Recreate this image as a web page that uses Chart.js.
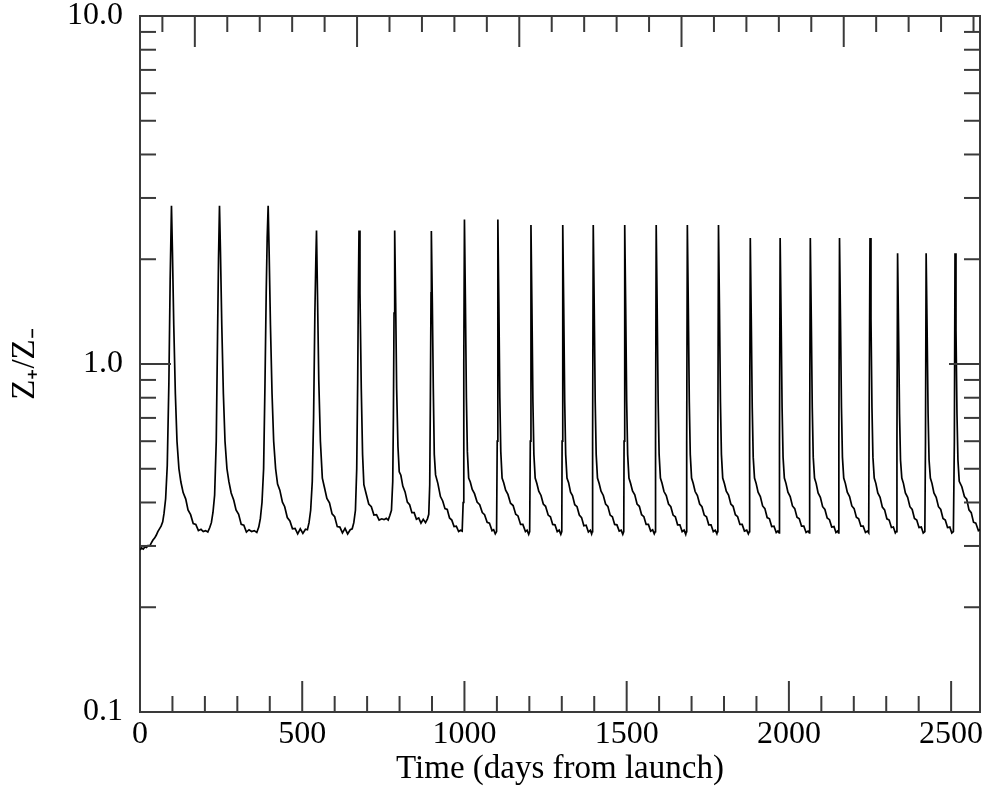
<!DOCTYPE html>
<html><head><meta charset="utf-8">
<script src="https://cdn.jsdelivr.net/npm/chart.js@4"></script>
<style>html,body{margin:0;padding:0;background:#fff}#wrap{width:1000px;height:800px}</style>
</head><body><div id="wrap"><canvas id="c" width="1000" height="800"></canvas></div>
<script>
// Series: time (days from launch) and Z+/Z- ratio
const days = [
0,5,10,15,20,25,30,35,40,45,50,55,60,65,70,74,79,84,89,93,97,
100,104,109,114,120,126,133,141,148,156,164,172,180,188,195,202,209,215,220,225,230,235,239,242,245,
248,252,257,262,268,274,281,289,296,304,312,320,328,336,344,352,360,366,371,376,381,385,389,392,395,
398,402,407,412,418,424,431,439,446,454,462,470,478,486,494,502,510,516,521,526,531,535,539,542,544,
547,551,556,562,568,576,584,592,600,608,616,624,632,640,648,654,659,664,668,671,673,675,
678,682,686,690,697,705,713,721,729,737,745,752,759,765,770,775,779,781,783,785,
788,791,795,799,804,810,817,824,831,838,845,852,859,866,873,880,886,890,893,895,897,898,
901,904,907,911,918,926,933,940,947,954,961,968,975,982,988,993,996,998,1000,
1003,1006,1009,1013,1018,1024,1031,1039,1047,1055,1062,1070,1077,1085,1090,1095,1099,1101,1103,
1106,1109,1112,1116,1121,1127,1134,1142,1150,1158,1165,1173,1180,1188,1193,1198,1201,1203,1205,
1208,1211,1214,1218,1223,1229,1236,1243,1250,1258,1265,1272,1279,1286,1292,1297,1300,1301,1303,
1306,1309,1312,1316,1321,1327,1333,1340,1347,1354,1361,1368,1375,1382,1388,1392,1394,1395,1397,
1400,1403,1406,1410,1415,1421,1428,1435,1442,1449,1456,1463,1470,1477,1483,1488,1491,1492,1494,
1497,1500,1503,1507,1512,1518,1525,1532,1539,1546,1553,1560,1567,1574,1580,1585,1588,1589,1591,
1594,1597,1600,1604,1609,1615,1622,1629,1636,1643,1650,1657,1664,1671,1677,1682,1684,1685,1687,
1690,1693,1696,1700,1705,1711,1718,1725,1732,1739,1746,1753,1760,1767,1773,1778,1780,1781,1783,
1786,1789,1792,1796,1801,1807,1814,1821,1828,1835,1842,1849,1856,1863,1870,1875,1878,1879,1881,
1884,1887,1890,1894,1899,1905,1912,1919,1926,1933,1940,1947,1954,1961,1966,1970,1971,1973,
1976,1979,1982,1986,1991,1997,2004,2011,2018,2025,2032,2039,2046,2053,2059,2063,2064,2066,
2069,2072,2075,2079,2084,2090,2097,2104,2111,2118,2125,2132,2139,2145,2150,2153,2154,2156,
2159,2162,2165,2169,2174,2180,2187,2194,2201,2208,2215,2222,2229,2236,2242,2246,2247,2250,
2253,2256,2259,2263,2268,2274,2281,2288,2295,2302,2309,2316,2322,2328,2331,2333,2335,
2338,2341,2344,2348,2353,2359,2366,2373,2380,2387,2394,2401,2408,2414,2419,2421,2423,
2426,2429,2432,2436,2441,2447,2454,2461,2468,2475,2482,2489,2496,2502,2507,2510,2512,
2515,2518,2521,2525,2533,2541,2548,2555,2562,2569,2576,2584,2589
];
const ratio = [
0.292,0.296,0.294,0.298,0.297,0.301,0.300,0.306,0.312,0.316,0.322,0.330,0.336,0.342,0.352,0.372,0.41,0.51,0.88,1.75,2.85,
2.1,1.3,0.82,0.6,0.5,0.458,0.427,0.409,0.381,0.369,0.348,0.346,0.332,0.335,0.330,0.332,0.329,0.339,0.35,0.375,0.42,0.6,1.2,2.0,2.85,
2.1,1.3,0.82,0.6,0.5,0.459,0.426,0.406,0.381,0.370,0.346,0.344,0.329,0.334,0.330,0.332,0.328,0.340,0.36,0.40,0.5,0.85,1.6,2.3,2.85,
2.1,1.3,0.82,0.6,0.5,0.452,0.434,0.401,0.389,0.362,0.354,0.336,0.337,0.325,0.336,0.326,0.335,0.334,0.35,0.38,0.46,0.7,1.4,2.0,2.42,
1.6,0.9,0.6,0.47,0.444,0.411,0.399,0.371,0.364,0.341,0.34,0.327,0.337,0.325,0.334,0.336,0.35,0.38,0.5,0.9,1.6,2.42,
1.6,0.85,0.55,0.45,0.424,0.396,0.389,0.368,0.369,0.356,0.359,0.357,0.36,0.356,0.367,0.38,0.46,0.7,1.4,2.42,
1.5,0.85,0.58,0.49,0.479,0.446,0.429,0.401,0.394,0.374,0.374,0.358,0.361,0.349,0.358,0.35,0.359,0.37,0.45,0.8,1.6,2.41,
1.5,0.85,0.55,0.48,0.454,0.416,0.404,0.384,0.382,0.361,0.356,0.341,0.342,0.33,0.333,0.331,0.4,1.0,2.60,
1.5,0.8,0.56,0.47,0.458,0.436,0.424,0.401,0.394,0.374,0.369,0.351,0.349,0.332,0.334,0.325,0.33,0.6,2.60,
1.5,0.8,0.56,0.47,0.456,0.434,0.422,0.398,0.392,0.37,0.366,0.346,0.346,0.33,0.333,0.324,0.33,0.6,2.51,
1.45,0.78,0.55,0.47,0.454,0.431,0.419,0.396,0.39,0.368,0.364,0.346,0.345,0.33,0.333,0.324,0.33,0.6,2.51,
1.45,0.78,0.55,0.47,0.456,0.428,0.419,0.394,0.389,0.368,0.362,0.343,0.344,0.329,0.333,0.325,0.33,0.6,2.51,
1.45,0.78,0.55,0.47,0.454,0.431,0.419,0.396,0.39,0.368,0.364,0.346,0.345,0.331,0.333,0.324,0.33,0.6,2.51,
1.45,0.78,0.55,0.47,0.454,0.432,0.421,0.396,0.39,0.369,0.364,0.346,0.346,0.331,0.334,0.325,0.33,0.6,2.51,
1.45,0.78,0.55,0.47,0.454,0.43,0.419,0.396,0.389,0.368,0.364,0.345,0.345,0.33,0.333,0.324,0.33,0.6,2.51,
1.45,0.78,0.55,0.47,0.454,0.43,0.419,0.396,0.389,0.368,0.364,0.345,0.345,0.33,0.333,0.325,0.33,0.6,2.51,
1.45,0.78,0.55,0.47,0.454,0.431,0.42,0.396,0.39,0.369,0.364,0.346,0.346,0.331,0.333,0.325,0.33,0.6,2.30,
1.35,0.75,0.54,0.47,0.454,0.428,0.416,0.391,0.384,0.362,0.359,0.341,0.342,0.328,0.331,0.327,0.6,2.30,
1.35,0.75,0.54,0.47,0.454,0.428,0.416,0.391,0.384,0.363,0.359,0.342,0.342,0.328,0.331,0.327,0.6,2.30,
1.35,0.75,0.54,0.47,0.454,0.426,0.414,0.389,0.382,0.361,0.357,0.34,0.341,0.328,0.331,0.327,0.6,2.30,
1.35,0.75,0.54,0.47,0.454,0.428,0.416,0.391,0.384,0.363,0.359,0.342,0.342,0.328,0.331,0.327,0.6,2.30,
1.35,0.75,0.54,0.47,0.454,0.426,0.414,0.388,0.381,0.359,0.356,0.339,0.34,0.327,0.33,0.6,2.08,
1.25,0.72,0.53,0.47,0.454,0.426,0.414,0.389,0.382,0.36,0.356,0.339,0.34,0.327,0.33,0.6,2.08,
1.25,0.72,0.53,0.47,0.454,0.426,0.414,0.389,0.382,0.36,0.356,0.339,0.34,0.327,0.33,0.6,2.08,
1.25,0.72,0.53,0.46,0.444,0.416,0.409,0.381,0.374,0.351,0.349,0.332,0.335
];

// Axis tick values
const xMajorTicks = [0,500,1000,1500,2000,2500];
const xMinorTicks = [100,200,300,400,600,700,800,900,1100,1200,1300,1400,1600,1700,1800,1900,2100,2200,2300,2400];
const topMajorTicks = [0,500,1000,1500,2000];
const topMinorTicks = [-100,100,200,300,400,600,700,800,900,1100,1200,1300,1400,1600,1700,1800,1900,2100,2200,2300,2400];
const yMajorTicks = [0.1,1,10];
const yMinorTicks = [0.2,0.3,0.4,0.5,0.6,0.7,0.8,0.9,2,3,4,5,6,7,8,9];

const AXIS = '#3a3a3a';
const FONT = "'Liberation Serif','Times New Roman',serif";

const inwardTicks = {
  id: 'inwardTicks',
  afterDatasetsDraw(chart) {
    const {ctx, chartArea: a, scales} = chart;
    ctx.save();
    ctx.strokeStyle = AXIS; ctx.lineWidth = 2; ctx.lineCap = 'butt';
    const seg = (x1, y1, x2, y2) => { ctx.beginPath(); ctx.moveTo(x1, y1); ctx.lineTo(x2, y2); ctx.stroke(); };
    const MAJ = 31, MIN = 16;
    xMajorTicks.forEach(v => { const p = scales.x.getPixelForValue(v); seg(p, a.bottom, p, a.bottom - MAJ); });
    xMinorTicks.forEach(v => { const p = scales.x.getPixelForValue(v); seg(p, a.bottom, p, a.bottom - MIN); });
    topMajorTicks.forEach(v => { const p = scales.x2.getPixelForValue(v); seg(p, a.top, p, a.top + MAJ); });
    topMinorTicks.forEach(v => { const p = scales.x2.getPixelForValue(v); seg(p, a.top, p, a.top + MIN); });
    yMajorTicks.forEach(v => { const p = scales.y.getPixelForValue(v); seg(a.left, p, a.left + MAJ, p); seg(a.right, p, a.right - MAJ, p); });
    yMinorTicks.forEach(v => { const p = scales.y.getPixelForValue(v); seg(a.left, p, a.left + MIN, p); seg(a.right, p, a.right - MIN, p); });
    ctx.restore();
  }
};

const noPad = s => { s.paddingTop = 0; s.paddingBottom = 0; s.paddingLeft = 0; s.paddingRight = 0; };

new Chart(document.getElementById('c'), {
  type: 'line',
  data: {
    datasets: [{
      data: days.map((d, i) => ({x: d, y: ratio[i]})),
      borderColor: '#000', borderWidth: 1.7, pointRadius: 0, tension: 0, fill: false
    }]
  },
  options: {
    responsive: false, animation: false, events: [],
    layout: {padding: 0, autoPadding: false},
    plugins: {legend: {display: false}, tooltip: {enabled: false}},
    scales: {
      x: {
        type: 'linear', position: 'bottom', min: 0, max: 2589,
        afterFit: s => { s.height = 88; noPad(s); },
        afterBuildTicks: s => { s.ticks = xMajorTicks.map(v => ({value: v})); },
        grid: {display: false, drawTicks: false},
        border: {display: true, color: AXIS, width: 2},
        ticks: {font: {family: FONT, size: 32}, color: '#000', padding: 3, maxRotation: 0, autoSkip: false, callback: v => String(v)},
        title: {display: true, text: 'Time (days from launch)', font: {family: FONT, size: 33}, color: '#000', padding: {top: 0, bottom: 11}}
      },
      x2: {
        type: 'linear', position: 'top', min: -169, max: 2420,
        afterFit: s => { s.height = 16; noPad(s); },
        grid: {display: false, drawTicks: false},
        border: {display: true, color: AXIS, width: 2},
        ticks: {display: false}
      },
      y: {
        type: 'logarithmic', position: 'left', min: 0.1, max: 10,
        afterFit: s => { s.width = 140; noPad(s); },
        afterBuildTicks: s => { s.ticks = yMajorTicks.map(v => ({value: v})); },
        grid: {display: false, drawTicks: false},
        border: {display: true, color: AXIS, width: 2},
        ticks: {font: {family: FONT, size: 32}, color: '#000', padding: 17, callback: v => Number(v).toFixed(1)},
        title: {display: true, text: 'Z\u208A/Z\u208B', font: {family: FONT, size: 33}, color: '#000', padding: {top: 6, bottom: 0}}
      },
      y2: {
        type: 'logarithmic', position: 'right', min: 0.1, max: 10,
        afterFit: s => { s.width = 20; noPad(s); },
        grid: {display: false, drawTicks: false},
        border: {display: true, color: AXIS, width: 2},
        ticks: {display: false}
      }
    }
  },
  plugins: [inwardTicks]
});
</script>
</body></html>
